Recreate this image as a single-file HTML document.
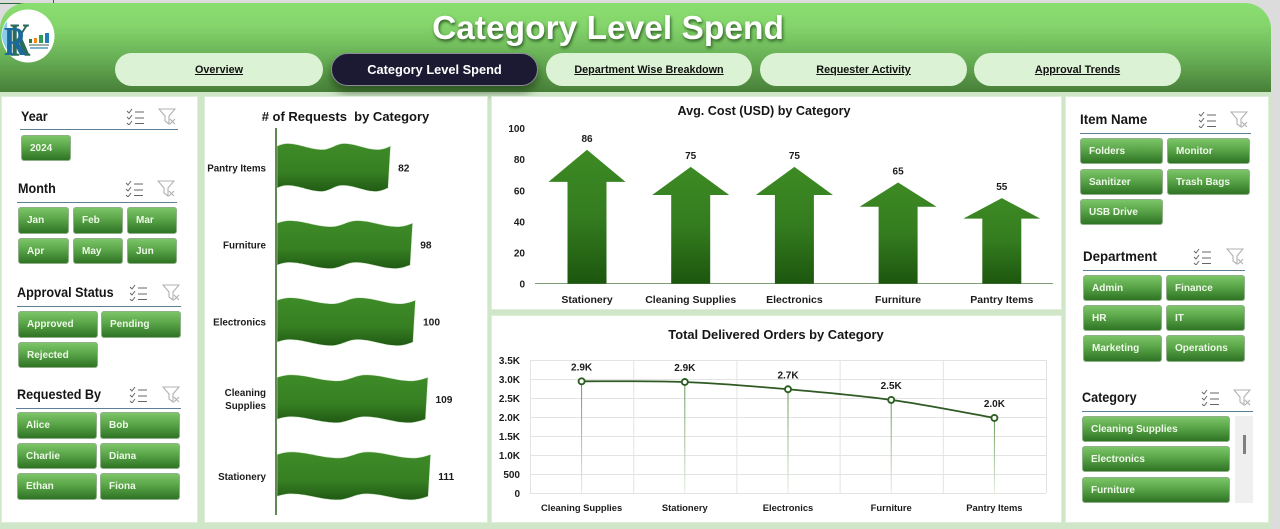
<!DOCTYPE html>
<html lang="en">
<head>
<meta charset="utf-8">
<title>Category Level Spend</title>
<style>
html,body{margin:0;padding:0;width:1280px;height:529px;overflow:hidden;background:#dcdcdc;font-family:"Liberation Sans",sans-serif}
#dash{position:relative;width:1280px;height:529px;overflow:hidden;filter:blur(.3px)}
.abs{position:absolute}
#base{left:0;top:60px;width:1271px;height:469px;background:#cfe7c8}
#header{left:0;top:3px;width:1271px;height:89px;border-radius:26px 26px 0 0;background:linear-gradient(#8ade70 0%,#84d56b 25%,#69b157 60%,#477f38 100%)}
#title{left:408px;top:8px;width:400px;text-align:center;font-size:33.5px;font-weight:bold;line-height:42px;color:#fff;text-shadow:1px 2px 3px #2c5a22}
.pill{top:53px;height:33px;border-radius:17px;background:#dcf2d4;color:#111;font-size:10.8px;font-weight:bold;line-height:34px;text-align:center;text-decoration:underline}
.pill.on{background:#1c1a33;color:#fff;font-size:12.8px;text-decoration:none;border:1px solid #8a8a9a;box-sizing:border-box;line-height:31px;box-shadow:0 6px 9px rgba(30,60,20,.65)}
.panel{background:#fff;box-shadow:0 0 0 1px #dfeeda}
.st{font-size:14px;font-weight:bold;color:#161616;line-height:16px;white-space:nowrap;transform:scaleX(.9);transform-origin:left center}
.rule{height:1px;background:#5d7f95}
.b{box-sizing:border-box;border:1px solid #8fb088;border-radius:3px;background:linear-gradient(#7cc568 0%,#59a548 45%,#2f7425 100%);color:#eef8e8;font-size:10px;font-weight:bold;padding-left:8px;display:flex;align-items:center;white-space:nowrap}
.ic{width:18px;height:17px}
svg text{font-family:"Liberation Sans",sans-serif}
</style>
</head>
<body>
<div id="dash">
<svg width="0" height="0" style="position:absolute">
  <defs>
    <symbol id="i-check" viewBox="0 0 18 17">
      <g fill="none" stroke="#666" stroke-width="1"><path d="M1 3l2 2 3-4M1 9l2 2 3-4M1 15l2 2 3-4"/><path d="M9 4h9M9 10h9M9 15.500h9"/></g>
    </symbol>
    <symbol id="i-filter" viewBox="0 0 18 17">
      <g fill="none" stroke="#b0b0b0" stroke-width="1.1"><path d="M1 1h16l-6 7v8l-4-3V8z"/><path d="M12 11l5 5M17 11l-5 5"/></g>
    </symbol>
  </defs>
</svg>
<div class="abs" id="base"></div>
<div class="abs" style="left:0;top:3px;width:53px;height:1px;background:#2d6a3a"></div>
<div class="abs" style="left:53px;top:0;width:1px;height:4px;background:#2d6a3a"></div>
<div class="abs" id="header"></div>
<div class="abs" id="title">Category Level Spend</div>

<svg class="abs" style="left:0;top:9px" width="56" height="54" viewBox="0 0 56 54">
  <ellipse cx="28" cy="27" rx="26.500" ry="26.500" fill="#fff"/>
  <path d="M2 27a26 26 0 0 1 5-15l1 30a26 26 0 0 1-6-15z" fill="#29a3d8" opacity=".55"/>
  <text transform="translate(10,47) scale(.55,1)" font-size="48" font-weight="bold" style="font-family:'Liberation Serif',serif" fill="#2c6b58">K</text>
  <text transform="translate(4,46) scale(.75,1)" font-size="41" font-weight="bold" style="font-family:'Liberation Serif',serif" fill="#1b6a9e">R</text>
  <rect x="29" y="30" width="3" height="4" fill="#2e7d32"/>
  <rect x="34" y="29" width="3" height="5" fill="#ef8a22"/>
  <rect x="39" y="26" width="4" height="8" fill="#2e9c5a"/>
  <rect x="45" y="24" width="4" height="10" fill="#1e7fb8"/>
  <rect x="29" y="35" width="20" height="2" fill="#7a8a80" opacity=".7"/>
  <rect x="30" y="38" width="18" height="2" fill="#2c7db0" opacity=".6"/>
</svg>

<div class="abs pill" style="left:115px;width:208px">Overview</div>
<div class="abs pill on" style="left:331px;width:207px">Category Level Spend</div>
<div class="abs pill" style="left:546px;width:206px">Department Wise Breakdown</div>
<div class="abs pill" style="left:760px;width:207px">Requester Activity</div>
<div class="abs pill" style="left:974px;width:207px">Approval Trends</div>

<div class="abs panel" style="left:2px;top:97px;width:195px;height:425px"></div>
<div class="abs panel" style="left:205px;top:97px;width:282px;height:425px"></div>
<div class="abs panel" style="left:492px;top:97px;width:569px;height:212px"></div>
<div class="abs panel" style="left:492px;top:316px;width:569px;height:206px"></div>
<div class="abs panel" style="left:1066px;top:97px;width:202px;height:425px"></div>

<!-- Year -->
<div class="abs st" style="left:21px;top:108px">Year</div>
<svg class="abs ic" style="left:126px;top:108px"><use href="#i-check"/></svg>
<svg class="abs ic" style="left:158px;top:108px"><use href="#i-filter"/></svg>
<div class="abs rule" style="left:20px;top:129px;width:158px"></div>
<div class="abs b" style="left:21px;top:135px;width:50px;height:26px">2024</div>

<!-- Month -->
<div class="abs st" style="left:18px;top:180px">Month</div>
<svg class="abs ic" style="left:125px;top:180px"><use href="#i-check"/></svg>
<svg class="abs ic" style="left:157px;top:180px"><use href="#i-filter"/></svg>
<div class="abs rule" style="left:17px;top:202px;width:160px"></div>
<div class="abs b" style="left:18px;top:207px;width:51px;height:27px">Jan</div>
<div class="abs b" style="left:73px;top:207px;width:50px;height:27px">Feb</div>
<div class="abs b" style="left:127px;top:207px;width:50px;height:27px">Mar</div>
<div class="abs b" style="left:18px;top:238px;width:51px;height:26px">Apr</div>
<div class="abs b" style="left:73px;top:238px;width:50px;height:26px">May</div>
<div class="abs b" style="left:127px;top:238px;width:50px;height:26px">Jun</div>

<!-- Approval -->
<div class="abs st" style="left:17px;top:284px">Approval Status</div>
<svg class="abs ic" style="left:129px;top:284px"><use href="#i-check"/></svg>
<svg class="abs ic" style="left:162px;top:284px"><use href="#i-filter"/></svg>
<div class="abs rule" style="left:17px;top:306px;width:164px"></div>
<div class="abs b" style="left:18px;top:311px;width:80px;height:27px">Approved</div>
<div class="abs b" style="left:101px;top:311px;width:80px;height:27px">Pending</div>
<div class="abs b" style="left:18px;top:342px;width:80px;height:26px">Rejected</div>

<!-- Requested By -->
<div class="abs st" style="left:17px;top:386px">Requested By</div>
<svg class="abs ic" style="left:129px;top:386px"><use href="#i-check"/></svg>
<svg class="abs ic" style="left:162px;top:386px"><use href="#i-filter"/></svg>
<div class="abs rule" style="left:16px;top:408px;width:165px"></div>
<div class="abs b" style="left:17px;top:412px;width:80px;height:27px">Alice</div>
<div class="abs b" style="left:100px;top:412px;width:80px;height:27px">Bob</div>
<div class="abs b" style="left:17px;top:443px;width:80px;height:26px">Charlie</div>
<div class="abs b" style="left:100px;top:443px;width:80px;height:26px">Diana</div>
<div class="abs b" style="left:17px;top:473px;width:80px;height:27px">Ethan</div>
<div class="abs b" style="left:100px;top:473px;width:80px;height:27px">Fiona</div>

<!-- Item Name -->
<div class="abs st" style="left:1080px;top:111px;transform:scaleX(.95)">Item Name</div>
<svg class="abs ic" style="left:1198px;top:111px"><use href="#i-check"/></svg>
<svg class="abs ic" style="left:1230px;top:111px"><use href="#i-filter"/></svg>
<div class="abs rule" style="left:1080px;top:133px;width:171px"></div>
<div class="abs b" style="left:1080px;top:138px;width:83px;height:26px">Folders</div>
<div class="abs b" style="left:1167px;top:138px;width:83px;height:26px">Monitor</div>
<div class="abs b" style="left:1080px;top:169px;width:83px;height:26px">Sanitizer</div>
<div class="abs b" style="left:1167px;top:169px;width:83px;height:26px">Trash Bags</div>
<div class="abs b" style="left:1080px;top:199px;width:83px;height:26px">USB Drive</div>

<!-- Department -->
<div class="abs st" style="left:1083px;top:248px;transform:scaleX(.95)">Department</div>
<svg class="abs ic" style="left:1193px;top:248px"><use href="#i-check"/></svg>
<svg class="abs ic" style="left:1226px;top:248px"><use href="#i-filter"/></svg>
<div class="abs rule" style="left:1083px;top:270px;width:162px"></div>
<div class="abs b" style="left:1083px;top:275px;width:79px;height:26px">Admin</div>
<div class="abs b" style="left:1166px;top:275px;width:79px;height:26px">Finance</div>
<div class="abs b" style="left:1083px;top:305px;width:79px;height:26px">HR</div>
<div class="abs b" style="left:1166px;top:305px;width:79px;height:26px">IT</div>
<div class="abs b" style="left:1083px;top:335px;width:79px;height:27px">Marketing</div>
<div class="abs b" style="left:1166px;top:335px;width:79px;height:27px">Operations</div>

<!-- Category -->
<div class="abs st" style="left:1082px;top:389px">Category</div>
<svg class="abs ic" style="left:1201px;top:389px"><use href="#i-check"/></svg>
<svg class="abs ic" style="left:1233px;top:389px"><use href="#i-filter"/></svg>
<div class="abs rule" style="left:1082px;top:411px;width:171px"></div>
<div class="abs b" style="left:1082px;top:416px;width:148px;height:26px">Cleaning Supplies</div>
<div class="abs b" style="left:1082px;top:446px;width:148px;height:26px">Electronics</div>
<div class="abs b" style="left:1082px;top:477px;width:148px;height:26px">Furniture</div>
<div class="abs" style="left:1235px;top:416px;width:18px;height:87px;background:#efefef"></div>
<div class="abs" style="left:1243px;top:435px;width:3px;height:19px;background:#808080"></div>

<!-- Charts -->
<svg class="abs" id="chart-requests" style="left:205px;top:97px" width="282" height="425" viewBox="205 97 282 425">
  <defs>
    <linearGradient id="g-flag" x1="0" y1="0" x2="0" y2="1"><stop offset="0" stop-color="#3e8b28"/><stop offset=".6" stop-color="#367f22"/><stop offset="1" stop-color="#205a14"/></linearGradient>
  </defs>
  <text x="345.500" y="121" text-anchor="middle" font-size="13" font-weight="bold" fill="#161616" style="white-space:pre"># of Requests  by Category</text>
</svg>
<svg class="abs" id="chart-cost" style="left:492px;top:97px" width="569" height="212" viewBox="492 97 569 212">
  <defs>
    <linearGradient id="g-arrow" x1="0" y1="0" x2="0" y2="1"><stop offset="0" stop-color="#3d8a24"/><stop offset=".5" stop-color="#347c1f"/><stop offset="1" stop-color="#1c560e"/></linearGradient>
  </defs>
  <text x="764" y="115" text-anchor="middle" font-size="12.600" font-weight="bold" fill="#161616">Avg. Cost (USD) by Category</text>
</svg>
<svg class="abs" id="chart-orders" style="left:492px;top:316px" width="569" height="206" viewBox="492 316 569 206">
  <defs>
    <linearGradient id="g-stem" x1="0" y1="0" x2="0" y2="1"><stop offset="0" stop-color="#5f9450"/><stop offset="1" stop-color="#e2efdd"/></linearGradient>
  </defs>
  <text x="776" y="339" text-anchor="middle" font-size="12.900" font-weight="bold" fill="#161616">Total Delivered Orders by Category</text>
</svg>
</div>

<script>
const requestCategories = ["Pantry Items", "Furniture", "Electronics", "Cleaning Supplies", "Stationery"];
const requestValues = [82, 98, 100, 109, 111];

const costCategories = ["Stationery", "Cleaning Supplies", "Electronics", "Furniture", "Pantry Items"];
const costValues = [86, 75, 75, 65, 55];
const costTicks = [0, 20, 40, 60, 80, 100];

const orderCategories = ["Cleaning Supplies", "Stationery", "Electronics", "Furniture", "Pantry Items"];
const orderValues = [2939, 2921, 2730, 2450, 1975];
const orderLabels = ["2.9K", "2.9K", "2.7K", "2.5K", "2.0K"];
const orderTicks = [0, 500, 1000, 1500, 2000, 2500, 3000, 3500];
const orderTickLabels = ["0", "500", "1.0K", "1.5K", "2.0K", "2.5K", "3.0K", "3.5K"];

const NS = "http://www.w3.org/2000/svg";
function mk(parent, tag, attrs, name) {
  const el = document.createElementNS(NS, tag);
  for (const k in attrs) el.setAttribute(k, attrs[k]);
  
  
  parent.appendChild(el);
  return el;
}
function label(parent, x, y, str, size, anchor, name) {
  const el = mk(parent, "text", {x: x, y: y, "font-size": size, "font-weight": "bold", "text-anchor": anchor, fill: "#1c1c1c"}, name);
  el.textContent = str;
  return el;
}
function slug(s) { return s.toLowerCase().replace(/[^a-z0-9]+/g, "-"); }

/* ---------- Requests: wavy horizontal bars ---------- */
const svgR = document.getElementById("chart-requests");
const rX = v => 277 + v * 1.385;
const rY = i => 167.5 + i * 77.1;
/* flag ripple: crests and troughs sit unevenly along the bar's length */
function ripple(t) {
  const knots = [-0.11, 0.09, 0.40, 0.59, 0.89, 1.09];
  const crest = [false, true, false, true, false, true];
  for (let k = 0; k < knots.length - 1; k++) {
    if (t >= knots[k] && t <= knots[k + 1]) {
      const u = (t - knots[k]) / (knots[k + 1] - knots[k]);
      const s = (1 - Math.cos(Math.PI * u)) / 2;
      const a = crest[k] ? -3 : 3, b = crest[k + 1] ? -3 : 3;
      return a + (b - a) * s;
    }
  }
  return 0;
}
function flagPath(x0, x1, cy) {
  const w = x1 - x0, pts = [], n = 60;
  for (let k = 0; k <= n; k++) {
    const t = k / n;
    pts.push([x0 + w * t, cy - 21 + ripple(t)]);
  }
  for (let k = n; k >= 0; k--) {
    const t = k / n;
    pts.push([x0 + (w - 2.5) * t, cy + 21 + ripple(t)]);
  }
  return "M" + pts.map(p => p[0].toFixed(1) + " " + p[1].toFixed(1)).join("L") + "Z";
}
requestValues.forEach((v, i) => {
  const cy = rY(i);
  mk(svgR, "path", {d: flagPath(rX(0), rX(v), cy), fill: "url(#g-flag)", stroke: "#d6e8cf", "stroke-width": ".6"}, "requests-bar-" + slug(requestCategories[i]));
  label(svgR, rX(v) + 7.5, cy + 4, String(v), 10.2, "start", "requests-value-" + slug(requestCategories[i]));
  const c = requestCategories[i];
  if (c === "Cleaning Supplies") {
    label(svgR, 266, cy - 3, "Cleaning", 9.8, "end", "requests-category-cleaning");
    label(svgR, 266, cy + 10, "Supplies", 9.8, "end", "requests-category-supplies");
  } else {
    label(svgR, 266, cy + 4, c, 9.8, "end", "requests-category-" + slug(c));
  }
});
mk(svgR, "rect", {x: 275, y: 128, width: 2, height: 387, fill: "#5f8a52"}, "requests-axis-line");

/* ---------- Avg. cost: arrow columns ---------- */
const svgC = document.getElementById("chart-cost");
const cY = v => 283.7 - v * 1.557;
const cX = i => 587 + i * 103.7;
costTicks.forEach(t => {
  label(svgC, 525, cY(t) + 4, String(t), 10, "end", "cost-y-tick-" + t);
});
mk(svgC, "rect", {x: 535, y: 283, width: 518, height: 1, fill: "#7f9f76"}, "cost-baseline");
costValues.forEach((v, i) => {
  const x = cX(i), top = cY(v), base = cY(0), sh = top + (base - top) * .24;
  mk(svgC, "path", {d: `M${x} ${top}L${x + 38.5} ${sh}H${x + 19.5}V${base}H${x - 19.5}V${sh}H${x - 38.5}Z`, fill: "url(#g-arrow)"}, "cost-arrow-" + slug(costCategories[i]));
  label(svgC, x, top - 8, String(v), 10, "middle", "cost-value-" + slug(costCategories[i]));
  label(svgC, x, 303, costCategories[i], 10.5, "middle", "cost-category-" + slug(costCategories[i]));
});

/* ---------- Delivered orders: line ---------- */
const svgO = document.getElementById("chart-orders");
const oY = v => 493 - v * 133 / 3500;
const oX = i => 581.6 + i * 103.2;
orderTicks.forEach((t, i) => {
  mk(svgO, "rect", {x: 530, y: oY(t), width: 516, height: 1, fill: "#e3e3e3"}, "orders-gridline-" + t);
  label(svgO, 520, oY(t) + 4, orderTickLabels[i], 10, "end", "orders-y-tick-" + t);
});
for (let k = 0; k <= orderCategories.length; k++) {
  mk(svgO, "rect", {x: oX(k) - 51.6, y: 360, width: 1, height: 133, fill: "#e3e3e3"}, "orders-vertical-gridline-" + k);
}
const pts = orderValues.map((v, i) => [oX(i), oY(v)]);
pts.forEach((p, i) => {
  mk(svgO, "rect", {x: p[0] - .5, y: p[1], width: 1, height: 493 - p[1], fill: "url(#g-stem)"}, "orders-drop-line-" + slug(orderCategories[i]));
});
let d = `M${pts[0][0]} ${pts[0][1]}`;
for (let i = 0; i < pts.length - 1; i++) {
  const p0 = pts[Math.max(i - 1, 0)], p1 = pts[i], p2 = pts[i + 1], p3 = pts[Math.min(i + 2, pts.length - 1)];
  d += `C${p1[0] + (p2[0] - p0[0]) / 6} ${p1[1] + (p2[1] - p0[1]) / 6} ${p2[0] - (p3[0] - p1[0]) / 6} ${p2[1] - (p3[1] - p1[1]) / 6} ${p2[0]} ${p2[1]}`;
}
mk(svgO, "path", {d: d, fill: "none", stroke: "#2f5a24", "stroke-width": 1.8}, "orders-line");
pts.forEach((p, i) => {
  mk(svgO, "circle", {cx: p[0], cy: p[1], r: 3, fill: "#fff", stroke: "#2c5f22", "stroke-width": 1.9}, "orders-point-" + slug(orderCategories[i]));
  label(svgO, p[0], p[1] - 11, orderLabels[i], 10, "middle", "orders-value-" + slug(orderCategories[i]));
  label(svgO, p[0], 511, orderCategories[i], 9.4, "middle", "orders-category-" + slug(orderCategories[i]));
});
</script>
</body>
</html>
